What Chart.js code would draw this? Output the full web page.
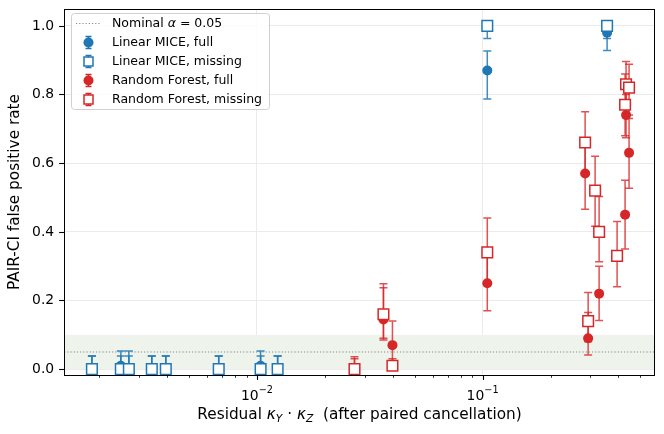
<!DOCTYPE html>
<html>
<head>
<meta charset="utf-8">
<script src="https://cdn.jsdelivr.net/npm/chart.js@4.4.0/dist/chart.umd.min.js"></script>
<style>
  html, body { margin: 0; padding: 0; background: #fff; }
  #wrap { width: 664px; height: 434px; }
</style>
</head>
<body>
<div id="wrap"><canvas id="fpr-chart" width="664" height="434"></canvas></div>
<script>
// residual kappa_Y * kappa_Z positions and false positive rates
const miceX = [0.001856, 0.002493, 0.002706, 0.00342, 0.003945, 0.00677, 0.01038, 0.01235, 0.1049, 0.3562];
const miceFull = [0, 0.01, 0, 0, 0, 0, 0.01, 0, 0.87, 0.98];
const miceFullLo = [0, 0, 0, 0, 0, 0, 0, 0, 0.787, 0.928];
const miceFullHi = [0.038, 0.053, 0.038, 0.038, 0.038, 0.038, 0.053, 0.038, 0.927, 1.0];
const miceMiss = [0, 0, 0, 0, 0, 0, 0, 0, 1.0, 1.0];
const miceMissLo = [0, 0, 0, 0, 0, 0, 0, 0, 0.963, 0.963];
const miceMissHi = [0.038, 0.038, 0.053, 0.038, 0.038, 0.038, 0.038, 0.038, 1.0, 1.0];

const rfFullX = [0.02706, 0.03636, 0.03985, 0.1049, 0.2847, 0.2936, 0.3284, 0.428, 0.4323, 0.4457];
const rfFull = [0, 0.145, 0.07, 0.25, 0.57, 0.09, 0.22, 0.45, 0.74, 0.63];
const rfFullLo = [0, 0.085, 0.01, 0.17, 0.466, 0.041, 0.142, 0.35, 0.674, 0.527];
const rfFullHi = [0.03, 0.237, 0.14, 0.34, 0.66, 0.165, 0.30, 0.55, 0.80, 0.73];

const rfMissX = [0.02706, 0.03636, 0.03985, 0.1049, 0.2847, 0.2936, 0.3152, 0.3284, 0.3945, 0.428, 0.4323, 0.4457];
const rfMiss = [0, 0.16, 0.01, 0.34, 0.66, 0.14, 0.52, 0.40, 0.33, 0.77, 0.83, 0.82];
const rfMissLo = [0, 0.09, 0, 0.25, 0.57, 0.08, 0.416, 0.313, 0.24, 0.68, 0.76, 0.74];
const rfMissHi = [0.036, 0.249, 0.03, 0.44, 0.75, 0.223, 0.62, 0.503, 0.43, 0.86, 0.896, 0.888];

const yTicks = [0, 0.2, 0.4, 0.6, 0.8, 1.0];
const xMajorTicks = [0.01, 0.1];
const nominalAlpha = 0.05;
const bandTop = 0.1;

const BLUE = "#1f77b4";
const RED = "#d62728";
const FONT = "DejaVu Sans";

function points(xs, ys) {
  return xs.map(function (x, i) { return { x: x, y: ys[i] }; });
}

function isMajor(v) {
  const l = Math.log10(v);
  return Math.abs(l - Math.round(l)) < 1e-9;
}

function drawRuns(ctx, runs, cx, baseline) {
  let total = 0;
  runs.forEach(function (r) { ctx.font = r.font; total += ctx.measureText(r.t).width; });
  let x = cx - total / 2;
  runs.forEach(function (r) {
    ctx.font = r.font;
    ctx.fillText(r.t, x, baseline + (r.dy || 0));
    x += ctx.measureText(r.t).width;
  });
}

const errorBars = {
  id: "errorBars",
  beforeDatasetDraw(chart, args) {
    const ds = chart.data.datasets[args.index];
    if (!ds.errLo) return;
    const xs = chart.scales.x;
    const ys = chart.scales.y;
    const ctx = chart.ctx;
    ctx.save();
    ctx.strokeStyle = ds.errColor;
    ctx.lineWidth = 1.5;
    ds.data.forEach(function (p, i) {
      const px = xs.getPixelForValue(p.x);
      const top = ys.getPixelForValue(ds.errHi[i]);
      const bot = ys.getPixelForValue(ds.errLo[i]);
      ctx.beginPath();
      ctx.moveTo(px, top); ctx.lineTo(px, bot);
      ctx.moveTo(px - 4, top); ctx.lineTo(px + 4, top);
      ctx.moveTo(px - 4, bot); ctx.lineTo(px + 4, bot);
      ctx.stroke();
    });
    ctx.restore();
  },
};

const decorations = {
  id: "decorations",
  beforeDatasetsDraw(chart) {
    const ctx = chart.ctx;
    const a = chart.chartArea;
    const ys = chart.scales.y;
    ctx.save();
    ctx.fillStyle = "#eef4ec";
    const t = ys.getPixelForValue(bandTop);
    const b = ys.getPixelForValue(0);
    ctx.fillRect(a.left, t, a.right - a.left, b - t);
    ctx.strokeStyle = "#888888";
    ctx.lineWidth = 1;
    ctx.setLineDash([1.2, 2]);
    const ny = ys.getPixelForValue(nominalAlpha);
    ctx.beginPath();
    ctx.moveTo(a.left, ny); ctx.lineTo(a.right, ny);
    ctx.stroke();
    ctx.restore();
  },
  afterDraw(chart) {
    const ctx = chart.ctx;
    const a = chart.chartArea;
    const xs = chart.scales.x;
    const ys = chart.scales.y;
    ctx.save();
    // frame
    ctx.strokeStyle = "#000";
    ctx.lineWidth = 1;
    ctx.strokeRect(Math.round(a.left) + 0.5, Math.round(a.top) + 0.5,
      Math.round(a.right - a.left) - 1, Math.round(a.bottom - a.top));
    // x ticks
    xs.ticks.forEach(function (tk) {
      const px = Math.round(xs.getPixelForValue(tk.value)) + 0.5;
      const len = isMajor(tk.value) ? 4.9 : 2.8;
      ctx.lineWidth = isMajor(tk.value) ? 1.1 : 0.8;
      ctx.beginPath();
      ctx.moveTo(px, a.bottom); ctx.lineTo(px, a.bottom + len);
      ctx.stroke();
    });
    // y ticks and labels
    ctx.lineWidth = 1.1;
    ctx.fillStyle = "#000";
    ctx.font = "13.9px " + FONT;
    ctx.textAlign = "right";
    ctx.textBaseline = "middle";
    yTicks.forEach(function (v) {
      const py = Math.round(ys.getPixelForValue(v)) + 0.5;
      ctx.beginPath();
      ctx.moveTo(a.left, py); ctx.lineTo(a.left - 4.9, py);
      ctx.stroke();
      ctx.fillText(v.toFixed(1), a.left - 9.8, py);
    });
    // x tick labels 10^k
    ctx.textAlign = "left";
    ctx.textBaseline = "alphabetic";
    xMajorTicks.forEach(function (v) {
      const px = xs.getPixelForValue(v);
      const k = Math.round(Math.log10(v));
      drawRuns(ctx, [
        { t: "10", font: "13.9px " + FONT },
        { t: "\u2212" + Math.abs(k), font: "9.7px " + FONT, dy: -7 },
      ], px, 400);
    });
    // x axis title
    const big = "15.3px " + FONT;
    const it = "italic 15.3px " + FONT;
    const sub = "italic 10.7px " + FONT;
    drawRuns(ctx, [
      { t: "Residual ", font: big },
      { t: "\u03ba", font: it },
      { t: "Y", font: sub, dy: 3 },
      { t: " \u00b7 ", font: big },
      { t: "\u03ba", font: it },
      { t: "Z", font: sub, dy: 3 },
      { t: "  (after paired cancellation)", font: big },
    ], (a.left + a.right) / 2, 419);
    // y axis title
    ctx.save();
    ctx.translate(15.5, (a.top + a.bottom) / 2);
    ctx.rotate(-Math.PI / 2);
    ctx.font = big;
    ctx.textAlign = "center";
    ctx.textBaseline = "middle";
    ctx.fillText("PAIR-CI false positive rate", 0, 0);
    ctx.restore();
    // legend
    drawLegend(ctx);
    ctx.restore();
  },
};

function drawLegend(ctx) {
  const lx = 71, ly = 13.5, lw = 198, lh = 96;
  ctx.save();
  ctx.fillStyle = "rgba(255,255,255,0.85)";
  ctx.strokeStyle = "#d0d0d0";
  ctx.lineWidth = 1;
  ctx.beginPath();
  ctx.roundRect(lx + 0.5, ly, lw, lh, 3);
  ctx.fill();
  ctx.stroke();

  const rows = [23.5, 42.5, 61.5, 80.5, 99.5];
  const tx = 112;
  const font = "12.5px " + FONT;
  ctx.fillStyle = "#000";
  ctx.textBaseline = "middle";
  ctx.textAlign = "left";

  // nominal line entry
  ctx.strokeStyle = "#888888";
  ctx.setLineDash([1.2, 2]);
  ctx.beginPath();
  ctx.moveTo(76, rows[0]); ctx.lineTo(101, rows[0]);
  ctx.stroke();
  ctx.setLineDash([]);
  ctx.font = font;
  let x = tx;
  ctx.fillText("Nominal ", x, rows[0]);
  x += ctx.measureText("Nominal ").width;
  ctx.font = "italic 12.5px " + FONT;
  ctx.fillText("\u03b1", x, rows[0]);
  x += ctx.measureText("\u03b1").width;
  ctx.font = font;
  ctx.fillText(" = " + nominalAlpha.toFixed(2), x, rows[0]);

  const entries = [
    { label: "Linear MICE, full", color: BLUE, filled: true },
    { label: "Linear MICE, missing", color: BLUE, filled: false },
    { label: "Random Forest, full", color: RED, filled: true },
    { label: "Random Forest, missing", color: RED, filled: false },
  ];
  entries.forEach(function (e, i) {
    const cy = rows[i + 1];
    const cx = 88.5;
    ctx.strokeStyle = e.color;
    ctx.lineWidth = 1.5;
    ctx.beginPath();
    ctx.moveTo(cx, cy - 6); ctx.lineTo(cx, cy + 6);
    ctx.moveTo(cx - 3, cy - 6); ctx.lineTo(cx + 3, cy - 6);
    ctx.moveTo(cx - 3, cy + 6); ctx.lineTo(cx + 3, cy + 6);
    ctx.stroke();
    if (e.filled) {
      ctx.fillStyle = e.color;
      ctx.beginPath();
      ctx.arc(cx, cy, 5, 0, Math.PI * 2);
      ctx.fill();
    } else {
      ctx.fillStyle = "#fff";
      ctx.fillRect(cx - 4.5, cy - 4.5, 9, 9);
      ctx.strokeRect(cx - 4.5, cy - 4.5, 9, 9);
    }
    ctx.fillStyle = "#000";
    ctx.font = font;
    ctx.fillText(e.label, tx, cy);
  });
  ctx.restore();
}

function series(label, xs, ys, lo, hi, color, filled, order) {
  return {
    label: label,
    data: points(xs, ys),
    errLo: lo,
    errHi: hi,
    errColor: color === BLUE ? "rgba(31,119,180,0.85)" : "rgba(214,39,40,0.8)",
    pointStyle: filled ? "circle" : "rect",
    pointRadius: filled ? 5 : 7.5,
    pointHoverRadius: filled ? 5 : 7.5,
    backgroundColor: filled ? color : "#ffffff",
    borderColor: color,
    borderWidth: filled ? 0 : 1.5,
    showLine: false,
    order: order,
  };
}

const chart = new Chart(document.getElementById("fpr-chart"), {
  type: "scatter",
  data: {
    datasets: [
      series("Linear MICE, full", miceX, miceFull, miceFullLo, miceFullHi, BLUE, true, 3),
      series("Linear MICE, missing", miceX, miceMiss, miceMissLo, miceMissHi, BLUE, false, 2),
      series("Random Forest, full", rfFullX, rfFull, rfFullLo, rfFullHi, RED, true, 1),
      series("Random Forest, missing", rfMissX, rfMiss, rfMissLo, rfMissHi, RED, false, 0),
    ],
  },
  options: {
    responsive: false,
    animation: false,
    devicePixelRatio: 1,
    layout: { padding: { left: 0, right: 8, top: 7, bottom: 0 } },
    plugins: { legend: { display: false }, tooltip: { enabled: false } },
    scales: {
      x: {
        type: "logarithmic",
        min: 0.001396,
        max: 0.5808,
        border: { display: false },
        grid: {
          drawTicks: false,
          lineWidth: 1,
          color: function (c) { return c.tick && isMajor(c.tick.value) ? "#ebebeb" : "rgba(0,0,0,0)"; },
        },
        ticks: { display: false },
        afterBuildTicks: function (scale) {
          const t = [];
          for (let k = -3; k <= 0; k++) {
            for (let m = 1; m <= 9; m++) {
              const v = m * Math.pow(10, k);
              if (v >= scale.min && v <= scale.max) t.push({ value: v });
            }
          }
          scale.ticks = t;
        },
        afterFit: function (scale) { scale.height = 59; },
      },
      y: {
        min: -0.017,
        max: 1.049,
        border: { display: false },
        grid: { drawTicks: false, color: "#ebebeb", lineWidth: 1 },
        ticks: { display: false },
        afterBuildTicks: function (scale) {
          scale.ticks = yTicks.map(function (v) { return { value: v }; });
        },
        afterFit: function (scale) { scale.width = 64; },
      },
    },
  },
  plugins: [errorBars, decorations],
});
</script>
</body>
</html>
